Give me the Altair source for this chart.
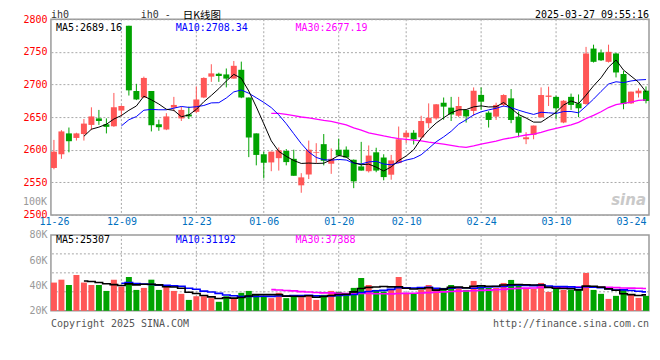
import altair as alt
import pandas as pd

# ---------------- data ----------------
opens = [2572, 2593, 2625, 2618, 2624, 2638, 2648, 2639, 2636, 2660,
         2790, 2690, 2680, 2690, 2639, 2631, 2664.5, 2648, 2654, 2658,
         2680, 2712, 2716.4, 2715.4, 2709, 2722.5, 2680, 2625, 2593, 2580.5,
         2587, 2598, 2586, 2545.4, 2562, 2595, 2608.5, 2578.5, 2600, 2600,
         2584.6, 2574.4, 2567, 2596, 2588, 2561.7, 2579.5, 2619, 2626, 2619,
         2640.6, 2648, 2672, 2664.5, 2652, 2661, 2659.4, 2684, 2656.8, 2650.7,
         2668.6, 2678.7, 2650.7, 2616, 2622.8, 2649.7, 2681, 2681, 2641.6, 2681,
         2671, 2670, 2755, 2749, 2734.7, 2747.5, 2716, 2671, 2686.4, 2690.5]
highs = [2615, 2630, 2634, 2626, 2647, 2665, 2661, 2648, 2687, 2668,
         2790, 2701, 2712, 2690, 2646, 2656, 2681, 2666, 2666, 2697,
         2711, 2731, 2718, 2724.5, 2736, 2735, 2680, 2625, 2597, 2597,
         2603.4, 2601, 2600, 2564, 2614, 2610, 2624, 2602, 2617, 2605,
         2585, 2612, 2606.5, 2603, 2593, 2592, 2635.5, 2630, 2630, 2652,
         2671, 2670, 2680, 2681, 2681, 2661, 2695.5, 2695.5, 2659, 2672,
         2685, 2693, 2658.4, 2626.8, 2637, 2695.5, 2696.6, 2683, 2676, 2686,
         2684.7, 2757.6, 2761, 2753.6, 2761, 2748.5, 2721, 2689, 2694, 2697]
lows = [2570, 2586, 2596, 2614, 2614, 2630, 2638, 2625, 2635, 2651,
        2683, 2676, 2679, 2628, 2629, 2630, 2659, 2644, 2647, 2656,
        2679, 2704, 2704, 2695.5, 2709, 2679, 2588.6, 2576, 2556, 2567,
        2568, 2576, 2560, 2534, 2555, 2579.5, 2576, 2563, 2590, 2588,
        2541, 2568, 2565, 2565.5, 2553, 2554, 2579, 2610, 2608, 2616,
        2633, 2646, 2646, 2644, 2650, 2641.6, 2652, 2661, 2634, 2645.6,
        2666, 2640.6, 2619, 2608.5, 2616, 2649, 2667, 2647, 2640.6, 2661,
        2650, 2669, 2733.6, 2736, 2733.6, 2710.8, 2662, 2670, 2680, 2671]
closes = [2597, 2628, 2613, 2625, 2640, 2651, 2644, 2635, 2665, 2667,
          2691, 2677, 2710, 2637.5, 2634.5, 2651, 2668.6, 2661, 2651, 2677,
          2710, 2717, 2713, 2709, 2728.6, 2680, 2618.7, 2592, 2580, 2597,
          2599, 2581, 2560, 2557.6, 2600, 2596, 2583, 2586, 2591, 2588,
          2551.5, 2568, 2591, 2568, 2558, 2583.6, 2616, 2626, 2616, 2644,
          2649, 2669.6, 2666, 2654, 2667, 2651, 2690.4, 2673.6, 2645.6, 2668.6,
          2683.8, 2645.6, 2626, 2619, 2637, 2683.8, 2683, 2663.5, 2675, 2668.6,
          2663.5, 2747.5, 2734.7, 2737, 2750, 2718.4, 2670, 2689, 2690.5, 2674.7]
volumes = [42300, 44600, 40400, 48300, 42300, 40400, 40400, 35700, 44600, 39100,
           46700, 36500, 38100, 44600, 36500, 39100, 35700, 33400, 28600, 31500,
           31500, 30000, 27100, 31500, 30000, 34200, 35700, 32600, 31300, 30000,
           34200, 30000, 31800, 30700, 32600, 28600, 32600, 35700, 34900, 33400,
           38100, 45900, 40400, 36500, 35200, 36500, 46700, 34200, 33400, 36500,
           40400, 37300, 38100, 40400, 38100, 36500, 43600, 40400, 38100, 38100,
           42000, 44400, 41200, 37300, 37300, 42000, 34900, 37300, 36500, 36500,
           37300, 49900, 36500, 33400, 29400, 31800, 36500, 32600, 30200, 31800]

tick_idx = [0, 9, 19, 28, 38, 47, 57, 67, 77]
tick_text = ["11-26", "12-09", "12-23", "01-06", "01-20", "02-10", "02-24", "03-10", "03-24"]
grid_idx = [9, 19, 28, 38, 47, 57, 67]
price_ticks = [2500, 2550, 2600, 2650, 2700, 2750, 2800]
vol_ticks = [20000, 40000, 60000, 80000]
vol_grid = [35000, 50000, 65000]
vol_floor = 20000

price_ma_text = ["MA5:2689.16", "MA10:2708.34", "MA30:2677.19"]
vol_ma_text = ["MA5:25307", "MA10:31192", "MA30:37388"]

# ---------------- styling ----------------
RED = "#ff5656"
GREEN = "#00a300"
MONO = "DejaVu Sans Mono"
CJK = "Noto Sans CJK SC"
GRID = "#a8a8a8"
W, H1, H2 = 599, 196, 76

df = pd.DataFrame({"idx": list(range(len(opens))), "open": opens, "high": highs,
                   "low": lows, "close": closes, "vol": volumes})

label_expr = "''"
for i, t in reversed(list(zip(tick_idx, tick_text))):
    label_expr = f"datum.value == {i} ? '{t}' : ({label_expr})"

x_scale = alt.Scale(domain=[-0.4, 79.4], nice=False, zero=False, padding=0)
x_axis_main = alt.Axis(values=tick_idx, labelExpr=label_expr, ticks=False, domain=False,
                       grid=False, labelColor="#0070c0", labelFont=MONO, labelFontSize=10,
                       labelPadding=2, title=None, labelOverlap=False, labelFlush=False)
p_scale = alt.Scale(domain=[2500, 2800], nice=False, zero=False)
p_axis = alt.Axis(values=price_ticks, format="d", ticks=False, domain=False, grid=True,
                  gridDash=[2, 2], gridColor=GRID, labelColor="#ff0000", labelFont=MONO,
                  labelFontSize=10, labelPadding=4, title=None)
v_scale = alt.Scale(domain=[20000, 80000], nice=False, zero=False)
v_axis = alt.Axis(values=vol_ticks, ticks=False, domain=False, grid=False,
                  labelExpr="(datum.value/1000) + 'K'", labelColor="#999999",
                  labelFont=MONO, labelFontSize=10, labelPadding=4, title=None)

color = alt.Color("dir:N", scale=alt.Scale(domain=["up", "down"], range=[RED, GREEN]), legend=None)

base = alt.Chart(df).transform_calculate(dir="datum.close >= datum.open ? 'up' : 'down'")

XM = alt.X("idx:Q", scale=x_scale, axis=x_axis_main)
XV = alt.X("idx:Q", scale=x_scale, axis=None)

one = pd.DataFrame({"a": [0]})


def txt(text, x, y, col="#000000", align="left", font=MONO, size=10, baseline="middle", **kw):
    return alt.Chart(one).mark_text(text=text, align=align, baseline=baseline, font=font,
                                    fontSize=size, color=col, **kw).encode(
        x=alt.value(x), y=alt.value(y))


# ---------------- price panel ----------------
vgrid_p = alt.Chart(pd.DataFrame({"g": grid_idx})).mark_rule(
    color=GRID, strokeDash=[2, 2], strokeWidth=1).encode(x=alt.X("g:Q", scale=x_scale, axis=x_axis_main))
wicks = base.mark_rule(strokeWidth=1).encode(
    x=XM, y=alt.Y("low:Q", scale=p_scale, axis=p_axis), y2="high:Q", color=color)
bodies = base.mark_bar(size=6).encode(
    x=XM, y=alt.Y("open:Q", scale=p_scale, axis=p_axis), y2="close:Q", color=color)


def ma_line(field, n, col, sw, yscale, yaxis, xenc, interp="linear"):
    return alt.Chart(df).transform_window(
        ma=f"mean({field})", frame=[-(n - 1), 0], sort=[alt.SortField("idx")]
    ).transform_filter(f"datum.idx >= {n - 1}").mark_line(
        color=col, strokeWidth=sw, interpolate=interp).encode(
        x=xenc, y=alt.Y("ma:Q", scale=yscale, axis=yaxis))


ma5 = ma_line("close", 5, "#000000", 1, p_scale, p_axis, XM)
ma10 = ma_line("close", 10, "#0000ff", 1, p_scale, p_axis, XM)
ma30 = ma_line("close", 30, "#ff00ff", 1.3, p_scale, p_axis, XM)

TOP = -9.3
price_texts = [
    txt("ih0", 0, TOP, "#333333", baseline="top"),
    txt("ih0 -", 90, TOP, "#333333", baseline="top"),
    txt("日K线图", 132, TOP + 0.8, "#000000", font=CJK, size=10.5, baseline="top"),
    txt("2025-03-27 09:55:16", W, TOP, "#000000", align="right", baseline="top"),
    txt(price_ma_text[0], 5, 8.5, "#000000"),
    txt(price_ma_text[1], 125, 8.5, "#0000ff"),
    txt(price_ma_text[2], 245, 8.5, "#ff00ff"),
    txt("100K", -4, 183, "#999999", align="right"),
    txt("sina", W - 3, 181, "#c9c9c9", align="right", font="DejaVu Sans", size=15,
        fontStyle="italic", fontWeight="bold"),
]

price = alt.layer(vgrid_p, wicks, bodies, ma30, ma10, ma5, *price_texts).properties(width=W, height=H1)

# ---------------- volume panel ----------------
vgrid_v = alt.Chart(pd.DataFrame({"g": grid_idx})).mark_rule(
    color=GRID, strokeDash=[2, 2], strokeWidth=1).encode(x=alt.X("g:Q", scale=x_scale, axis=None))
hgrid_v = alt.Chart(pd.DataFrame({"h": vol_grid})).mark_rule(
    color=GRID, strokeDash=[2, 2], strokeWidth=1).encode(y=alt.Y("h:Q", scale=v_scale, axis=v_axis))
vbars = base.mark_bar(size=6).encode(
    x=XV, y=alt.Y("vol:Q", scale=v_scale, axis=v_axis), y2=alt.datum(vol_floor), color=color)
vma5 = ma_line("vol", 5, "#000000", 1.6, v_scale, v_axis, XV, "step")
vma10 = ma_line("vol", 10, "#0000ff", 1.6, v_scale, v_axis, XV, "step")
vma30 = ma_line("vol", 30, "#ff00ff", 1.6, v_scale, v_axis, XV, "step")

vol_texts = [
    txt(vol_ma_text[0], 5, 5, "#000000"),
    txt(vol_ma_text[1], 125, 5, "#0000ff"),
    txt(vol_ma_text[2], 245, 5, "#ff00ff"),
    txt("Copyright 2025 SINA.COM", 0, 89, "#555555"),
    txt("http://finance.sina.com.cn", W, 89, "#555555", align="right"),
]

volume = alt.layer(vgrid_v, hgrid_v, vbars, vma30, vma10, vma5, *vol_texts).properties(width=W, height=H2)

chart = alt.vconcat(price, volume, spacing=1).properties(
    padding={"left": 14, "top": 0, "right": 1, "bottom": 4},
    background="#ffffff",
).configure_view(stroke="#9a9a9a", strokeWidth=1.5, fill="#ffffff")

chart.save("out.html", embed_options={"renderer": "svg", "actions": False})
